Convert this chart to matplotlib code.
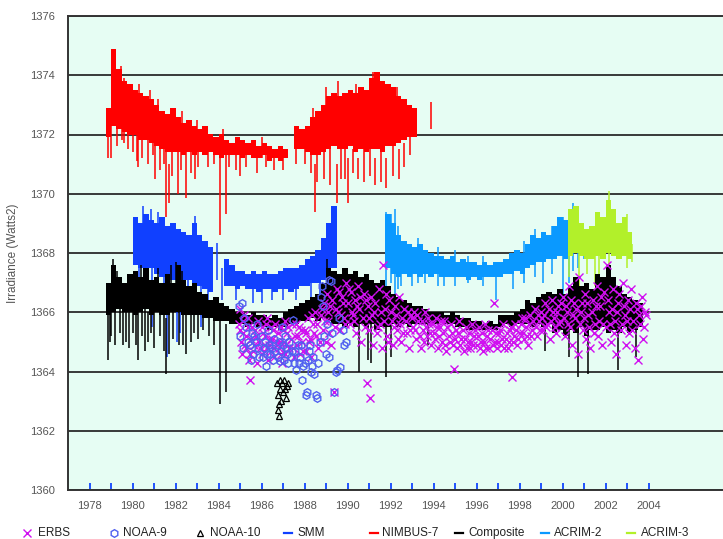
import numpy as np
import matplotlib
matplotlib.use("Agg")
import matplotlib.pyplot as plt
from matplotlib.lines import Line2D

plt.rcParams['font.family'] = ['Liberation Sans', 'DejaVu Sans']

STEP = 0.25  # quarter-year envelope resolution

# ---------------- NIMBUS-7 (upper / lower envelope per quarter) ----------------
nimbus_start = 1978.875
nimbus_hi = [1372.9, 1374.9, 1374.2, 1373.8, 1373.7, 1373.5, 1373.4, 1373.3, 1373.2, 1373.0,
             1372.8, 1372.7, 1372.9, 1372.6, 1372.4, 1372.5, 1372.3, 1372.2, 1372.3, 1372.0,
             1371.9, 1372.0, 1371.8, 1371.7, 1371.9, 1371.8, 1371.7, 1371.8, 1371.6, 1371.7,
             1371.6, 1371.5, 1371.6, 1371.5, np.nan, 1372.3, 1372.2, 1372.3, 1372.6, 1372.8,
             1373.0, 1373.3, 1373.4, 1373.3, 1373.4, 1373.5, 1373.4, 1373.6, 1373.5, 1373.9,
             1374.1, 1373.8, 1373.7, 1373.6, 1373.3, 1373.2, 1373.0, 1372.9]
nimbus_lo = [1371.9, 1372.3, 1372.2, 1372.1, 1372.0, 1372.0, 1371.8, 1371.8, 1371.7, 1371.6,
             1371.5, 1371.4, 1371.4, 1371.4, 1371.3, 1371.4, 1371.3, 1371.4, 1371.3, 1371.4,
             1371.3, 1371.2, 1371.3, 1371.3, 1371.3, 1371.2, 1371.3, 1371.2, 1371.2, 1371.3,
             1371.1, 1371.2, 1371.1, 1371.2, np.nan, 1371.5, 1371.5, 1371.4, 1371.3, 1371.3,
             1371.4, 1371.5, 1371.6, 1371.5, 1371.5, 1371.6, 1371.4, 1371.5, 1371.4, 1371.5,
             1371.5, 1371.4, 1371.6, 1371.6, 1371.7, 1371.8, 1371.9, 1371.9]
nimbus_spk_t = [1978.85, 1979.6, 1980.2, 1980.25, 1981.05, 1981.55, 1981.7, 1982.1, 1982.5,
                1982.9, 1984.05, 1984.35, 1985.0, 1988.5, 1988.6, 1989.5, 1989.7, 1990.0,
                1990.5, 1991.3, 1991.8, 1992.4, 1992.65, 1993.87,
                1979.0, 1979.3, 1979.5, 1979.8, 1980.0, 1980.45, 1980.7, 1980.95, 1981.3,
                1981.45, 1981.85, 1982.25, 1982.7, 1983.05, 1983.5, 1983.8, 1984.5, 1984.8,
                1985.3, 1985.8, 1986.2, 1986.6, 1987.0, 1987.6, 1988.0, 1988.3, 1988.9,
                1989.2, 1989.9, 1990.25, 1990.75, 1991.05, 1991.55, 1992.1, 1992.9,
                1979.2, 1979.45, 1980.3, 1980.8, 1981.2, 1982.3, 1983.0, 1984.2, 1986.0,
                1988.4, 1989.0, 1989.55, 1990.4, 1991.2, 1991.45, 1992.3]
nimbus_spk_lo = [1371.2, 1371.7, 1371.1, 1370.9, 1370.5, 1369.2, 1369.7, 1370.0, 1369.85,
                 1370.5, 1368.6, 1369.3, 1370.6, 1369.4, 1370.4, 1369.7, 1370.5, 1369.7,
                 1370.5, 1370.3, 1370.2, 1370.5, 1370.9, 1372.2,
                 1371.2, 1371.6, 1371.8, 1371.5, 1371.4, 1371.2, 1371.0, 1371.3, 1370.8,
                 1371.0, 1370.6, 1370.8, 1370.7, 1370.9, 1370.9, 1371.0, 1370.9, 1370.8,
                 1370.9, 1370.7, 1370.9, 1370.8, 1370.8, 1371.0, 1371.0, 1370.7, 1370.5,
                 1370.3, 1370.5, 1370.7, 1370.4, 1370.6, 1370.4, 1370.6, 1371.3,
                 1373.0, 1373.0, 1372.5, 1372.5, 1372.0, 1371.8, 1371.6, 1371.4, 1371.2,
                 1372.0, 1372.2, 1372.5, 1372.5, 1372.8, 1372.8, 1372.5]
nimbus_spk_hi = [1372.7, 1373.9, 1373.0, 1372.0, 1372.6, 1371.5, 1371.0, 1371.5, 1371.5,
                 1371.5, 1371.5, 1371.5, 1371.5, 1371.0, 1371.5, 1371.0, 1371.5, 1371.2,
                 1371.2, 1371.2, 1371.2, 1371.5, 1371.7, 1373.1,
                 1372.5, 1372.5, 1372.3, 1372.2, 1372.1, 1372.0, 1371.9, 1371.8, 1371.7,
                 1371.6, 1371.5, 1371.5, 1371.5, 1371.5, 1371.5, 1371.4, 1371.4, 1371.4,
                 1371.4, 1371.3, 1371.4, 1371.3, 1371.3, 1371.6, 1371.6, 1371.4, 1371.5,
                 1371.6, 1371.6, 1371.5, 1371.5, 1371.6, 1371.5, 1371.7, 1371.9,
                 1374.5, 1374.3, 1373.7, 1373.5, 1373.2, 1372.8, 1372.5, 1372.2, 1371.9,
                 1372.9, 1373.6, 1373.8, 1373.7, 1374.1, 1374.0, 1373.6]

# ---------------- SMM ----------------
smm_start = 1980.125
smm_hi = [1369.2, 1369.0, 1369.3, 1369.1, 1369.0, 1369.2, 1368.9, 1369.0, 1368.8, 1368.7,
          1368.6, 1369.0, 1368.6, 1368.4, 1368.2, np.nan, np.nan, 1367.8, 1367.6, 1367.4,
          1367.4, 1367.3, 1367.4, 1367.3, 1367.4, 1367.3, 1367.3, 1367.4, 1367.5, 1367.5,
          1367.5, 1367.6, 1367.8, 1367.9, 1368.1, 1368.5, 1369.0, 1369.6]
smm_lo = [1367.6, 1367.5, 1367.4, 1367.5, 1367.3, 1367.2, 1367.3, 1367.1, 1367.2, 1367.0,
          1367.1, 1366.9, 1366.9, 1366.8, 1366.7, np.nan, np.nan, 1366.9, 1366.9, 1366.8,
          1366.9, 1366.8, 1366.8, 1366.7, 1366.8, 1366.8, 1366.7, 1366.8, 1366.8, 1366.7,
          1366.8, 1366.9, 1366.9, 1367.0, 1367.0, 1367.1, 1367.3, 1367.5]
smm_spk_t = [1980.5, 1980.85, 1981.2, 1982.9, 1980.9, 1981.6, 1982.2, 1983.2, 1983.95,
             1984.15, 1986.0, 1987.0, 1988.7, 1989.1, 1980.3, 1981.45, 1982.05, 1982.6,
             1983.5, 1984.8, 1985.6, 1986.5, 1987.6, 1988.3]
smm_spk_lo = [1368.5, 1368.5, 1368.5, 1368.0, 1365.5, 1364.5, 1365.3, 1365.5, 1367.1,
              1366.4, 1366.3, 1366.4, 1366.4, 1366.2, 1367.0, 1366.0, 1365.0, 1366.2,
              1366.3, 1366.4, 1366.3, 1366.4, 1366.4, 1366.5]
smm_spk_hi = [1369.6, 1369.5, 1369.4, 1369.25, 1367.5, 1367.2, 1367.2, 1366.9, 1368.35,
              1367.5, 1366.8, 1366.8, 1367.1, 1367.2, 1367.6, 1367.3, 1367.2, 1367.1,
              1366.8, 1366.9, 1366.8, 1366.8, 1366.9, 1367.0]

# ---------------- Composite ----------------
comp_start = 1978.875
comp_hi = [1367.0, 1367.6, 1367.2, 1367.0, 1367.3, 1367.4, 1367.2, 1367.5, 1367.1, 1367.2,
           1367.0, 1367.3, 1367.0, 1367.6, 1367.1, 1366.9, 1367.0, 1366.7, 1366.6, 1366.4,
           1366.5, 1366.3, 1366.2, 1366.1, 1366.0, 1366.0, 1365.9, 1366.0, 1365.9, 1365.9,
           1365.8, 1365.9, 1365.8, 1366.0, 1366.1, 1366.2, 1366.3, 1366.4, 1366.5, 1366.6,
           1367.0, 1367.5, 1367.4, 1367.3, 1367.5, 1367.3, 1367.4, 1367.2, 1367.3, 1367.1,
           1367.0, 1367.1, 1366.9, 1366.6, 1366.5, 1366.4, 1366.3, 1366.2, 1366.2, 1366.1,
           1366.0, 1366.0, 1366.0, 1365.9, 1366.0, 1365.9, 1365.8, 1365.8, 1365.7, 1365.7,
           1365.6, 1365.7, 1365.6, 1365.9, 1365.9, 1365.9, 1366.0, 1366.1, 1366.4, 1366.3,
           1366.5, 1366.6, 1366.7, 1366.6, 1366.8, 1366.6, 1366.9, 1367.2, 1366.9, 1367.0,
           1366.8, 1367.3, 1367.2, 1367.6, 1367.2, 1366.9, 1366.6, 1366.5, 1366.4, 1366.3]
comp_lo = [1365.9, 1366.0, 1366.1, 1366.0, 1366.0, 1365.9, 1366.0, 1366.1, 1365.9, 1366.0,
           1365.9, 1365.9, 1366.0, 1366.0, 1365.9, 1365.9, 1365.9, 1365.9, 1365.8, 1365.8,
           1365.7, 1365.7, 1365.7, 1365.6, 1365.6, 1365.6, 1365.5, 1365.6, 1365.5, 1365.5,
           1365.4, 1365.5, 1365.4, 1365.5, 1365.6, 1365.6, 1365.7, 1365.7, 1365.8, 1365.7,
           1365.8, 1365.7, 1365.6, 1365.6, 1365.5, 1365.6, 1365.5, 1365.6, 1365.5, 1365.6,
           1365.4, 1365.5, 1365.5, 1365.6, 1365.5, 1365.6, 1365.5, 1365.6, 1365.6, 1365.6,
           1365.6, 1365.6, 1365.7, 1365.6, 1365.6, 1365.5, 1365.5, 1365.4, 1365.4, 1365.4,
           1365.4, 1365.4, 1365.4, 1365.5, 1365.6, 1365.5, 1365.6, 1365.6, 1365.6, 1365.5,
           1365.6, 1365.5, 1365.6, 1365.3, 1365.4, 1365.2, 1365.4, 1365.3, 1365.5, 1365.2,
           1365.4, 1365.4, 1365.5, 1365.3, 1365.4, 1365.3, 1365.5, 1365.3, 1365.4, 1365.5]
comp_spk_t = [1978.85, 1978.95, 1979.55, 1979.85, 1980.25, 1980.7, 1981.55, 1981.7, 1982.35,
              1982.5, 1984.05, 1984.33, 1990.55, 1990.95, 1991.1, 1991.8, 1992.0, 1993.75,
              1999.2, 2000.3, 2000.7, 2001.2, 2002.6, 2003.4, 1979.1, 1982.0, 1989.05,
              1979.0, 1979.2, 1979.4, 1979.7, 1980.0, 1980.15, 1980.45, 1980.6, 1980.85,
              1981.0, 1981.3, 1981.45, 1981.9, 1982.15, 1982.7, 1982.85, 1983.05, 1983.3,
              1983.55, 1983.8, 1979.3, 1980.4, 1981.2, 1981.8, 1982.3]
comp_spk_lo = [1364.4, 1365.0, 1364.9, 1364.8, 1364.4, 1365.0, 1363.9, 1364.6, 1364.9,
               1364.6, 1362.9, 1363.3, 1364.0, 1364.4, 1364.3, 1363.8, 1364.5, 1364.9,
               1364.7, 1364.5, 1363.8, 1363.9, 1364.05, 1364.5, 1366.5, 1366.5, 1366.5,
               1365.2, 1364.9, 1365.3, 1365.0, 1365.3, 1364.9, 1365.2, 1364.7, 1365.3,
               1364.8, 1365.2, 1364.7, 1365.1, 1364.9, 1365.0, 1365.3, 1365.1, 1365.4,
               1365.2, 1364.9, 1366.5, 1366.5, 1366.5, 1366.5, 1366.5]
comp_spk_hi = [1366.5, 1366.5, 1366.5, 1366.3, 1366.0, 1366.0, 1365.8, 1366.0, 1366.0,
               1366.0, 1365.8, 1365.6, 1365.8, 1365.8, 1365.6, 1365.6, 1365.6, 1365.8,
               1365.8, 1365.5, 1365.4, 1365.4, 1365.5, 1365.5, 1367.8, 1367.7, 1367.8,
               1366.2, 1366.2, 1366.3, 1366.2, 1366.2, 1366.1, 1366.2, 1366.2, 1366.1,
               1366.2, 1366.1, 1366.1, 1366.2, 1366.1, 1366.1, 1366.0, 1366.0, 1366.0,
               1366.0, 1365.9, 1367.4, 1367.6, 1367.5, 1367.6, 1367.4]

# ---------------- ACRIM-2 ----------------
acrim2_start = 1991.875
acrim2_hi = [1369.3, 1369.0, 1368.6, 1368.4, 1368.3, 1368.2, 1368.3, 1368.1, 1368.0, 1367.9,
             1367.9, 1367.8, 1367.9, 1367.7, 1367.8, 1367.7, 1367.7, 1367.6, 1367.7, 1367.6,
             1367.7, 1367.7, 1367.8, 1368.0, 1368.1, 1368.0, 1368.3, 1368.6, 1368.5, 1368.7,
             1368.6, 1368.9, 1369.2, 1369.1]
acrim2_lo = [1367.5, 1367.3, 1367.2, 1367.3, 1367.2, 1367.3, 1367.2, 1367.3, 1367.2, 1367.3,
             1367.2, 1367.2, 1367.2, 1367.2, 1367.2, 1367.1, 1367.2, 1367.1, 1367.2, 1367.2,
             1367.2, 1367.2, 1367.3, 1367.3, 1367.4, 1367.3, 1367.5, 1367.6, 1367.7, 1367.7,
             1367.8, 1367.8, 1367.9, 1367.8]
acrim2_spk_t = [1991.78, 1992.2, 1992.5, 1993.0, 1993.6, 1994.5, 1996.9, 1997.7, 1999.1,
                2000.0, 2000.3, 2000.5, 2000.7, 2001.0, 1992.0, 1992.35, 1993.3, 1994.2,
                1995.0, 1995.6, 1996.3, 1998.2, 1998.7, 1999.5]
acrim2_spk_lo = [1366.6, 1366.4, 1366.9, 1366.9, 1367.0, 1366.9, 1366.4, 1366.8, 1367.0,
                 1366.5, 1367.0, 1367.4, 1367.5, 1367.8, 1367.0, 1366.8, 1367.0, 1366.9,
                 1366.9, 1367.0, 1366.9, 1367.0, 1367.2, 1367.3]
acrim2_spk_hi = [1369.4, 1369.5, 1368.2, 1367.8, 1367.8, 1367.6, 1367.5, 1367.6, 1368.0,
                 1369.2, 1369.4, 1369.7, 1369.6, 1368.8, 1369.3, 1368.9, 1368.5, 1368.2,
                 1368.1, 1367.9, 1367.9, 1368.4, 1368.8, 1368.9]

# ---------------- ACRIM-3 ----------------
acrim3_start = 2000.375
acrim3_hi = [1369.5, 1369.6, 1369.0, 1368.8, 1368.9, 1369.4, 1369.2, 1369.8, 1369.5, 1369.0,
             1369.2, 1368.7]
acrim3_lo = [1367.9, 1368.0, 1367.9, 1367.8, 1367.8, 1367.9, 1367.8, 1368.0, 1367.9, 1367.8,
             1367.9, 1367.8]
acrim3_spk_t = [2000.28, 2000.75, 2001.15, 2001.5, 2001.7, 2002.15, 2003.0, 2003.22]
acrim3_spk_lo = [1367.2, 1366.4, 1367.3, 1366.9, 1367.2, 1367.5, 1367.5, 1367.7]
acrim3_spk_hi = [1369.4, 1368.5, 1368.0, 1368.5, 1368.5, 1370.1, 1369.3, 1368.3]

# ---------------- ERBS (individual readings) ----------------
erbs_year = [1984.95, 1985.0, 1985.05, 1985.1, 1985.15, 1985.2, 1985.3, 1985.35, 1985.4, 1985.45,
             1985.5, 1985.6, 1985.7, 1985.8, 1985.9,
             1986.0, 1986.05, 1986.15, 1986.2, 1986.3, 1986.4, 1986.45, 1986.55, 1986.6, 1986.7,
             1986.8, 1986.9, 1986.95,
             1987.05, 1987.1, 1987.2, 1987.3, 1987.4, 1987.5, 1987.55, 1987.65, 1987.75, 1987.8,
             1987.9,
             1988.0, 1988.05, 1988.15, 1988.25, 1988.3, 1988.4, 1988.5, 1988.55, 1988.65, 1988.75,
             1988.85, 1988.9,
             1989.0, 1989.05, 1989.1, 1989.2, 1989.25, 1989.35, 1989.4, 1989.5, 1989.55, 1989.65,
             1989.75, 1989.85, 1989.95,
             1990.0, 1990.1, 1990.15, 1990.25, 1990.35, 1990.4, 1990.5, 1990.55, 1990.65, 1990.75,
             1990.8, 1990.9, 1990.95,
             1991.0, 1991.05, 1991.1, 1991.2, 1991.25, 1991.35, 1991.45, 1991.5, 1991.6, 1991.65,
             1991.75, 1991.85, 1991.95,
             1992.05, 1992.1, 1992.2, 1992.3, 1992.4, 1992.5, 1992.55, 1992.65, 1992.75, 1992.85,
             1992.95,
             1993.05, 1993.1, 1993.2, 1993.3, 1993.4, 1993.5, 1993.6, 1993.7, 1993.8, 1993.9,
             1994.0, 1994.1, 1994.2, 1994.3, 1994.4, 1994.5, 1994.6, 1994.7, 1994.8, 1994.9,
             1994.95,
             1995.05, 1995.1, 1995.2, 1995.3, 1995.4, 1995.5, 1995.6, 1995.7, 1995.8, 1995.9,
             1996.0, 1996.1, 1996.2, 1996.3, 1996.4, 1996.5, 1996.6, 1996.7, 1996.8, 1996.85,
             1996.95,
             1997.05, 1997.15, 1997.25, 1997.35, 1997.45, 1997.55, 1997.65, 1997.7, 1997.8, 1997.9,
             1998.0, 1998.1, 1998.2, 1998.3, 1998.4, 1998.5, 1998.6, 1998.7, 1998.8, 1998.9,
             1999.0, 1999.1, 1999.2, 1999.3, 1999.4, 1999.5, 1999.6, 1999.7, 1999.8, 1999.9,
             2000.0, 2000.1, 2000.2, 2000.3, 2000.35, 2000.45, 2000.55, 2000.6, 2000.7, 2000.75,
             2000.85, 2000.95,
             2001.05, 2001.1, 2001.2, 2001.3, 2001.4, 2001.5, 2001.6, 2001.65, 2001.75, 2001.85,
             2001.95,
             2002.0, 2002.05, 2002.15, 2002.25, 2002.35, 2002.45, 2002.5, 2002.6, 2002.7, 2002.8,
             2002.9, 2002.95,
             2003.05, 2003.1, 2003.2, 2003.3, 2003.35, 2003.45, 2003.5, 2003.6, 2003.7, 2003.75,
             2003.85,
             1985.02, 1985.12, 1985.22, 1985.28, 1985.38, 1985.48, 1985.58, 1985.65, 1985.75,
             1985.85, 1985.95,
             1986.02, 1986.1, 1986.18, 1986.25, 1986.35, 1986.42, 1986.5, 1986.58, 1986.65,
             1986.75, 1986.85, 1986.92,
             1987.0, 1987.08, 1987.15, 1987.25, 1987.35, 1987.45, 1987.6, 1987.7, 1987.85, 1987.95,
             1988.08, 1988.2, 1988.35, 1988.45, 1988.6, 1988.7, 1988.8, 1988.95,
             1989.08, 1989.15, 1989.3, 1989.45, 1989.6, 1989.7, 1989.8, 1989.9,
             1990.05, 1990.2, 1990.3, 1990.45, 1990.6, 1990.7, 1990.85, 1990.98,
             1991.15, 1991.3, 1991.4, 1991.55, 1991.7, 1991.8, 1991.9,
             1992.0, 1992.15, 1992.25, 1992.35, 1992.45, 1992.6, 1992.7, 1992.8, 1992.9,
             1993.0, 1993.15, 1993.25, 1993.35, 1993.45, 1993.55, 1993.65, 1993.75, 1993.85,
             1993.95,
             1994.05, 1994.15, 1994.25, 1994.35, 1994.45, 1994.55, 1994.65, 1994.75, 1994.85,
             1995.0, 1995.15, 1995.25, 1995.35, 1995.45, 1995.55, 1995.65, 1995.75, 1995.85,
             1995.95,
             1996.05, 1996.15, 1996.25, 1996.35, 1996.45, 1996.55, 1996.65, 1996.75, 1996.9,
             1997.0, 1997.1, 1997.2, 1997.3, 1997.4, 1997.5, 1997.6, 1997.75, 1997.85, 1997.95,
             1998.05, 1998.15, 1998.25, 1998.35, 1998.45, 1998.55, 1998.65, 1998.75, 1998.85,
             1998.95,
             1999.05, 1999.15, 1999.25, 1999.35, 1999.45, 1999.55, 1999.65, 1999.75, 1999.85,
             1999.95,
             2000.05, 2000.15, 2000.25, 2000.4, 2000.5, 2000.65, 2000.8, 2000.9,
             2001.0, 2001.15, 2001.25, 2001.35, 2001.45, 2001.55, 2001.7, 2001.8, 2001.9,
             2002.1, 2002.2, 2002.3, 2002.4, 2002.55, 2002.65, 2002.75, 2002.85,
             2003.0, 2003.15, 2003.25, 2003.4, 2003.55, 2003.65, 2003.8, 2003.9]
erbs_val = [1365.6, 1366.1, 1365.0, 1364.6, 1365.3, 1365.9, 1364.8, 1365.5, 1364.4, 1363.7,
            1365.1, 1364.7, 1365.4, 1364.3, 1365.0,
            1364.6, 1365.3, 1364.9, 1365.6, 1364.4, 1365.1, 1364.7, 1365.4, 1364.5, 1365.0,
            1364.8, 1365.5, 1364.3,
            1365.0, 1364.6, 1365.3, 1364.8, 1365.6, 1364.5, 1365.2, 1364.9, 1365.5, 1364.6,
            1365.0,
            1365.4, 1364.7, 1365.8, 1365.1, 1364.5, 1365.6, 1366.0, 1365.2, 1364.8, 1365.9,
            1365.4, 1366.3,
            1365.0, 1366.6, 1365.7, 1366.2, 1364.9, 1363.3, 1365.5, 1366.8, 1366.0, 1365.4,
            1366.5, 1365.8, 1367.0,
            1366.3, 1365.6, 1366.7, 1365.9, 1366.4, 1365.3, 1366.9, 1366.1, 1365.0, 1366.6,
            1365.5, 1363.6, 1366.2,
            1365.8, 1363.1, 1366.5, 1364.9, 1366.0, 1365.3, 1366.8, 1365.6, 1364.8, 1367.6,
            1366.1, 1365.2, 1366.4,
            1365.7, 1364.9, 1366.2, 1365.4, 1366.5, 1365.0, 1365.8, 1366.1, 1365.3, 1364.8,
            1365.9,
            1365.5, 1366.0, 1365.1, 1365.7, 1364.8, 1365.4, 1366.0, 1365.2, 1365.6, 1364.9,
            1365.3, 1365.8, 1364.8, 1365.5, 1365.0, 1365.7, 1364.7, 1365.2, 1365.6, 1364.9,
            1364.1,
            1365.4, 1364.8, 1365.7, 1365.1, 1364.7, 1365.5, 1365.0, 1364.8, 1365.6, 1365.2,
            1364.9, 1365.5, 1365.0, 1364.7, 1365.6, 1365.2, 1364.8, 1365.4, 1366.3, 1365.0,
            1364.8,
            1365.3, 1364.9, 1365.6, 1365.1, 1364.8, 1365.4, 1363.8, 1365.0, 1365.6, 1364.9,
            1365.3, 1365.8, 1365.1, 1365.5, 1364.9, 1365.9, 1365.4, 1366.1, 1365.2, 1365.7,
            1366.0, 1365.4, 1366.3, 1365.6, 1365.1, 1366.4, 1365.8, 1365.3, 1366.2, 1365.7,
            1366.5, 1365.2, 1366.0, 1366.9, 1365.5, 1364.9, 1366.3, 1365.8, 1364.6, 1367.2,
            1366.0, 1365.4,
            1366.6, 1365.1, 1365.9, 1364.8, 1366.4, 1365.6, 1366.9, 1365.2, 1366.2, 1364.9,
            1366.7,
            1365.5, 1367.6, 1366.0, 1365.0, 1366.8, 1365.7, 1364.6, 1366.3, 1365.4, 1367.0,
            1365.9, 1364.9,
            1366.4, 1365.3, 1366.8, 1365.7, 1364.8, 1366.1, 1364.4, 1365.6, 1366.5, 1365.1,
            1366.0,
            1365.4, 1365.7, 1364.9, 1365.2, 1365.8, 1364.6, 1365.5, 1364.9, 1365.2,
            1365.7, 1364.8,
            1365.5, 1364.7, 1365.2, 1365.8, 1364.9, 1365.5, 1365.1, 1364.8, 1365.6,
            1365.3, 1365.0, 1364.6,
            1365.4, 1365.7, 1364.9, 1365.5, 1365.1, 1364.8, 1365.6, 1365.2, 1365.4, 1364.7,
            1365.3, 1365.0, 1365.9, 1365.3, 1365.6, 1365.0, 1366.1, 1365.7,
            1366.0, 1365.3, 1366.4, 1366.1, 1366.7, 1365.9, 1366.3, 1365.6,
            1366.8, 1366.0, 1365.7, 1366.2, 1366.5, 1365.8, 1366.4, 1365.4,
            1365.9, 1366.3, 1365.5, 1366.0, 1365.7, 1366.6, 1365.0,
            1366.0, 1365.5, 1365.9, 1365.1, 1365.6, 1365.3, 1365.7, 1366.0, 1365.4,
            1365.8, 1365.4, 1365.9, 1365.2, 1365.7, 1365.0, 1365.5, 1365.8, 1365.3,
            1365.6,
            1365.1, 1365.5, 1365.2, 1365.7, 1365.3, 1364.9, 1365.5, 1365.0, 1365.3,
            1365.1, 1365.3, 1364.9, 1365.4, 1365.1, 1364.8, 1365.3, 1365.0, 1364.9,
            1365.4,
            1365.2, 1364.8, 1365.3, 1365.0, 1364.8, 1365.4, 1365.1, 1364.9, 1365.3,
            1365.0, 1365.4, 1365.1, 1364.8, 1365.3, 1365.0, 1365.5, 1365.2, 1365.4, 1365.1,
            1365.6, 1365.3, 1365.8, 1365.2, 1365.6, 1365.2, 1365.7, 1365.5, 1365.9,
            1365.4,
            1365.8, 1365.9, 1365.5, 1366.1, 1365.7, 1366.0, 1365.5, 1366.0, 1365.6,
            1366.3,
            1365.8, 1366.2, 1365.6, 1366.4, 1365.9, 1366.1, 1365.6, 1366.3,
            1365.8, 1366.3, 1365.5, 1366.0, 1365.3, 1366.2, 1365.7, 1366.5, 1365.6,
            1366.4, 1365.6, 1366.1, 1365.3, 1366.0, 1366.6, 1365.6, 1366.2,
            1365.7, 1366.1, 1365.4, 1366.3, 1365.9, 1366.2, 1365.5, 1365.9]

# ---------------- NOAA-9 ----------------
noaa9_year = [1984.95, 1985.1, 1985.2, 1985.3, 1985.45, 1985.55, 1985.6, 1985.75, 1985.8, 1985.9,
              1986.0, 1986.1, 1986.2, 1986.3, 1986.4, 1986.5, 1986.6, 1986.75, 1986.85, 1986.95,
              1987.0, 1987.1, 1987.2, 1987.3, 1987.4, 1987.45, 1987.5, 1987.6, 1987.7, 1987.8,
              1987.9, 1988.0, 1988.07, 1988.1, 1988.2, 1988.3, 1988.4, 1988.54, 1988.6, 1988.7,
              1988.77, 1988.8, 1988.85, 1989.0, 1989.15, 1989.16, 1989.24, 1989.3, 1989.35,
              1989.47, 1989.5, 1989.6, 1989.65, 1989.8, 1989.85, 1989.95,
              1985.0, 1985.15, 1985.35, 1985.5, 1985.65, 1985.85, 1986.05, 1986.15, 1986.25,
              1986.35, 1986.55, 1986.65, 1986.8, 1986.9, 1987.05, 1987.15, 1987.25, 1987.35,
              1987.55, 1987.75, 1987.85, 1987.95, 1988.15, 1988.25, 1988.35, 1988.45, 1988.65,
              1988.9, 1989.05]
noaa9_val = [1366.2, 1366.3, 1365.8, 1365.5, 1364.9, 1365.3, 1364.6, 1365.0, 1365.6, 1364.5,
             1365.2, 1364.8, 1364.2, 1365.4, 1364.6, 1364.8, 1365.1, 1364.5, 1364.35, 1365.5,
             1364.9, 1365.2, 1364.6, 1365.0, 1364.7, 1365.75, 1364.3, 1364.05, 1364.9, 1364.5,
             1363.7, 1364.3, 1363.2, 1363.3, 1364.7, 1364.0, 1364.5, 1363.2, 1363.1, 1365.0,
             1366.5, 1366.9, 1366.2, 1364.6, 1367.1, 1364.5, 1367.05, 1365.3, 1363.3,
             1364.0, 1364.05, 1365.8, 1364.15, 1365.4, 1364.9, 1365.0,
             1365.2, 1364.8, 1365.0, 1364.4, 1365.2, 1364.8, 1364.5, 1365.0, 1364.6,
             1364.9, 1364.4, 1364.7, 1365.0, 1364.7, 1364.4, 1364.8, 1364.3, 1364.5,
             1364.7, 1364.3, 1364.9, 1364.2, 1364.4, 1364.9, 1364.2, 1363.9, 1364.3,
             1365.2, 1365.6]

# ---------------- NOAA-10 ----------------
noaa10_year = [1986.7, 1986.75, 1986.78, 1986.8, 1986.82, 1986.85, 1986.88, 1986.9, 1986.95,
               1987.0, 1987.05, 1987.1, 1987.15, 1987.2, 1987.25]
noaa10_val = [1363.6, 1363.2, 1362.7, 1362.9, 1362.5, 1363.4, 1363.7, 1363.0, 1363.6,
              1363.3, 1363.7, 1363.4, 1363.1, 1363.5, 1363.6]

# ---------------- axis ticks ----------------
year_ticks = list(range(1978, 2005))
year_labels = [str(y) if y % 2 == 0 else '' for y in year_ticks]
irr_ticks = list(range(1360, 1377, 2))

C_NIMBUS = '#ff0000'
C_SMM = '#1040ff'
C_COMP = '#000000'
C_ACRIM2 = '#0a99ff'
C_ACRIM3 = '#b2f02a'
C_ERBS = '#d010f0'
C_NOAA9 = '#5060f0'
C_NOAA10 = '#000000'

W, H = 723, 539
fig = plt.figure(figsize=(W / 100, H / 100), dpi=100)
ax = fig.add_axes([68 / W, 1 - 490 / H, 666.5 / W, 474 / H])
ax.set_facecolor('#e6fdf3')


def band(start, hi, lo, color, z):
    hi = np.asarray(hi, float)
    lo = np.asarray(lo, float)
    t = start + STEP * np.arange(len(hi))
    ok = ~np.isnan(hi)
    ax.bar(t[ok], hi[ok] - lo[ok], bottom=lo[ok], width=STEP, color=color,
           linewidth=0, zorder=z)


def spikes(t, lo, hi, color, z):
    ax.vlines(t, lo, hi, colors=color, linewidth=1.1, zorder=z)


band(nimbus_start, nimbus_hi, nimbus_lo, C_NIMBUS, 2)
spikes(nimbus_spk_t, nimbus_spk_lo, nimbus_spk_hi, C_NIMBUS, 2)
band(smm_start, smm_hi, smm_lo, C_SMM, 3)
spikes(smm_spk_t, smm_spk_lo, smm_spk_hi, C_SMM, 3)
band(acrim2_start, acrim2_hi, acrim2_lo, C_ACRIM2, 3)
spikes(acrim2_spk_t, acrim2_spk_lo, acrim2_spk_hi, C_ACRIM2, 3)
band(acrim3_start, acrim3_hi, acrim3_lo, C_ACRIM3, 3.5)
spikes(acrim3_spk_t, acrim3_spk_lo, acrim3_spk_hi, C_ACRIM3, 3.5)
band(comp_start, comp_hi, comp_lo, C_COMP, 4)
spikes(comp_spk_t, comp_spk_lo, comp_spk_hi, C_COMP, 4)

ax.plot(erbs_year, erbs_val, linestyle='none', marker='x', ms=5.5, mew=1.0,
        color=C_ERBS, zorder=5)
ax.plot(noaa9_year, noaa9_val, linestyle='none', marker='h', ms=5.5, mew=1.0,
        mfc='none', mec=C_NOAA9, zorder=6)
ax.plot(noaa10_year, noaa10_val, linestyle='none', marker='^', ms=4.5, mew=0.9,
        mfc='none', mec=C_NOAA10, zorder=7)

ax.set_xlim(1977, 2008)
ax.set_ylim(1360, 1376)

ax.set_yticks(irr_ticks)
ax.set_yticklabels([str(v) for v in irr_ticks])
ax.set_xticks(year_ticks)
ax.set_xticklabels(year_labels)
ax.tick_params(axis='y', length=0, pad=9.5, labelsize=8, labelcolor='#555555')
ax.tick_params(axis='x', direction='in', length=5, width=1.3, color='#1144ff',
               pad=8, labelsize=8, labelcolor='#555555')

ax.yaxis.grid(True, color='#2a2a2a', linewidth=1.3)
ax.set_axisbelow(True)
for side in ('top', 'left', 'bottom', 'right'):
    ax.spines[side].set_color('#333333')
    ax.spines[side].set_linewidth(1.4)

ax.set_ylabel('Irradiance (Watts2)', fontsize=8.5, color='#555555')
ax.yaxis.set_label_coords(-0.0735, 0.5)

# legend row along the bottom of the figure
leg_y = 1 - 533 / H
entries = [
    ('ERBS', 27, 38, dict(marker='x', color=C_ERBS, ms=5.5, mew=1.0, linestyle='none')),
    ('NOAA-9', 114, 123, dict(marker='h', mfc='none', mec=C_NOAA9, ms=5.5, mew=1.0, linestyle='none')),
    ('NOAA-10', 200, 210, dict(marker='^', mfc='none', mec=C_NOAA10, ms=4.5, mew=0.9, linestyle='none')),
    ('SMM', 288, 297, dict(color=C_SMM, lw=1.6)),
    ('NIMBUS-7', 374, 382, dict(color=C_NIMBUS, lw=1.6)),
    ('Composite', 459, 468, dict(color=C_COMP, lw=1.6)),
    ('ACRIM-2', 545, 554, dict(color=C_ACRIM2, lw=1.6)),
    ('ACRIM-3', 631, 641, dict(color=C_ACRIM3, lw=1.6)),
]
for label, kx, tx, style in entries:
    if style.get('marker'):
        xs = [kx / W]
    else:
        xs = [(kx - 4) / W, (kx + 4) / W]
    fig.add_artist(Line2D(xs, [leg_y] * len(xs), transform=fig.transFigure, **style))
    fig.text(tx / W, leg_y, label, fontsize=8.5, color='#222222', va='center', ha='left')

fig.savefig('out.png', dpi=100)
